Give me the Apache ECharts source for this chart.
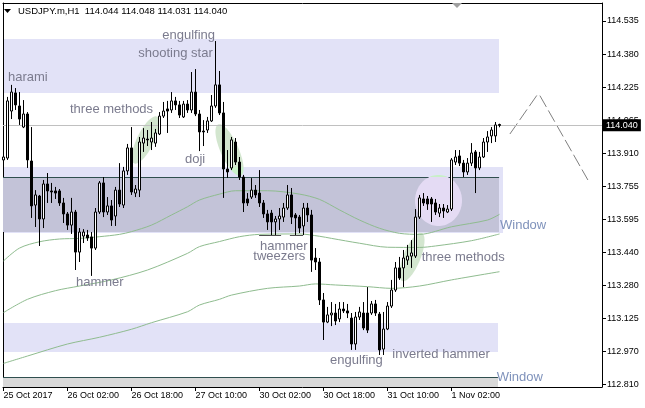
<!DOCTYPE html>
<html><head><meta charset="utf-8">
<script src="https://cdn.jsdelivr.net/npm/echarts@6/dist/echarts.min.js"></script>
<style>html,body{margin:0;padding:0;background:#fff;}#c{width:645px;height:408px;}</style>
</head><body><div id="c"></div>
<script>
// ---- data (H1 bars, index 0 = 25 Oct 2017 10:00) ----
const opens = [113.876,113.885,114.108,114.194,114.132,114.032,114.094,113.871,113.662,113.705,
113.596,113.762,113.729,113.729,113.729,113.672,113.620,113.567,113.629,113.439,
113.515,113.520,113.511,113.458,113.629,113.767,113.629,113.658,113.610,113.733,
113.662,113.824,113.933,113.719,113.733,113.956,113.975,113.961,113.956,113.999,
114.084,114.118,114.113,114.156,114.137,114.080,114.141,114.113,114.198,114.094,
114.013,114.018,114.061,114.132,114.232,114.099,113.833,113.838,113.961,113.866,
113.795,113.691,113.700,113.733,113.719,113.672,113.620,113.624,113.582,113.596,
113.605,113.648,113.710,113.615,113.605,113.563,113.648,113.615,113.411,113.392,
113.212,113.107,113.141,113.150,113.122,113.169,113.160,113.126,113.003,113.131,
113.150,113.150,113.150,113.193,113.145,112.979,113.074,113.183,113.259,113.364,
113.364,113.401,113.420,113.420,113.605,113.691,113.691,113.691,113.672,113.624,
113.648,113.629,113.643,113.866,113.895,113.861,113.819,113.861,113.914,113.838,
113.890,113.961,113.990,113.990,114.044];
const closes = [113.890,114.156,114.198,114.137,114.070,114.094,113.876,113.658,113.710,113.596,
113.762,113.729,113.724,113.719,113.672,113.620,113.567,113.629,113.439,113.534,
113.534,113.506,113.458,113.629,113.767,113.629,113.658,113.591,113.733,113.667,
113.824,113.933,113.724,113.738,113.961,113.980,113.971,113.980,114.004,114.084,
114.108,114.108,114.156,114.137,114.089,114.141,114.113,114.198,114.094,114.009,
114.009,114.061,114.132,114.232,114.099,113.833,113.819,113.971,113.866,113.795,
113.672,113.672,113.733,113.710,113.672,113.620,113.582,113.582,113.596,113.610,
113.648,113.710,113.605,113.601,113.553,113.648,113.615,113.401,113.392,113.212,
113.107,113.141,113.150,113.112,113.169,113.160,113.150,113.003,113.131,113.155,
113.079,113.069,113.193,113.150,112.975,113.074,113.183,113.259,113.364,113.316,
113.411,113.420,113.435,113.605,113.696,113.672,113.667,113.667,113.629,113.648,
113.634,113.643,113.876,113.890,113.861,113.819,113.861,113.909,113.838,113.890,
113.961,113.985,114.018,114.042,114.040];
const highs = [113.923,114.175,114.232,114.217,114.198,114.160,114.103,114.032,113.733,113.710,
113.781,113.814,113.767,113.748,113.738,113.696,113.629,113.696,113.639,113.553,
113.548,113.544,113.534,113.648,113.776,113.795,113.700,113.686,113.748,113.861,
113.843,113.952,114.032,113.757,113.985,114.027,114.018,114.056,114.023,114.103,
114.151,114.156,114.198,114.175,114.156,114.156,114.160,114.293,114.307,114.113,
114.065,114.080,114.184,114.440,114.298,114.151,113.923,113.985,113.980,113.890,
113.805,113.719,113.790,113.757,113.828,113.686,113.639,113.639,113.610,113.648,
113.672,113.757,113.743,113.624,113.615,113.672,113.672,113.639,113.458,113.411,
113.245,113.179,113.202,113.193,113.202,113.202,113.193,113.150,113.155,113.179,
113.202,113.273,113.207,113.212,113.155,113.155,113.202,113.307,113.392,113.416,
113.449,113.473,113.496,113.643,113.710,113.719,113.705,113.700,113.691,113.667,
113.667,113.662,113.885,113.923,113.923,113.876,113.885,113.956,113.923,113.914,
113.980,114.013,114.032,114.056,114.048];
const lows = [113.819,113.876,114.070,114.113,114.042,114.027,113.838,113.601,113.558,113.468,
113.553,113.672,113.672,113.691,113.658,113.577,113.544,113.525,113.354,113.392,
113.482,113.492,113.326,113.449,113.620,113.605,113.615,113.563,113.563,113.653,
113.648,113.805,113.710,113.700,113.700,113.914,113.942,113.923,113.938,113.994,
114.075,114.004,114.099,114.113,114.075,114.075,114.099,114.099,114.084,113.918,
113.942,114.004,114.056,114.123,114.089,113.696,113.791,113.828,113.852,113.781,
113.629,113.658,113.691,113.696,113.653,113.601,113.544,113.520,113.520,113.544,
113.582,113.639,113.572,113.520,113.529,113.520,113.582,113.345,113.354,113.188,
113.022,113.102,113.088,113.093,113.107,113.150,113.126,112.975,112.975,113.117,
113.069,113.055,113.141,113.136,112.951,112.951,113.069,113.174,113.250,113.307,
113.273,113.378,113.364,113.411,113.596,113.658,113.639,113.582,113.615,113.605,
113.601,113.624,113.634,113.852,113.847,113.795,113.805,113.847,113.719,113.828,
113.885,113.914,113.956,113.961,114.031];

// moving averages (bar index, price)
const ma1Idx = [0,4,9,14,19,24,29,32,37,42,46,49,54,58,66,74,79,84,89,94,99,104,112,121,124];
const ma1 = [113.397,113.458,113.488,113.501,113.504,113.512,113.523,113.536,113.567,113.615,113.654,113.686,113.714,113.730,113.730,113.714,113.689,113.639,113.591,113.552,113.528,113.523,113.559,113.591,113.618];
const ma2Idx = [0,6,13,19,27,36,46,49,54,59,64,74,79,82,89,96,104,108,117,124];
const ma2 = [113.152,113.215,113.256,113.278,113.307,113.354,113.433,113.465,113.489,113.512,113.523,113.525,113.514,113.504,113.481,113.462,113.461,113.468,113.493,113.525];
const ma3Idx = [0,6,16,24,32,37,46,49,54,57,66,74,78,83,91,97,104,112,124];
const ma3 = [112.911,112.946,113.003,113.035,113.073,113.104,113.156,113.188,113.215,113.235,113.267,113.278,113.288,113.283,113.275,113.267,113.278,113.307,113.346];

// projection zig-zag (bar index, price)
const projUpIdx = [126.6, 133.4], projUp = [113.999, 114.184];
const projDnIdx = [134.1, 146.1], projDn = [114.181, 113.781];

const bidPrice = 114.040;
const xTickIndex = [0,16,32,48,64,80,96,112];
const xTickLabels = ['25 Oct 2017','26 Oct 02:00','26 Oct 18:00','27 Oct 10:00','30 Oct 02:00','30 Oct 18:00','31 Oct 10:00','1 Nov 02:00'];
const yTickLabels = ['112.810','112.970','113.125','113.280','113.440','113.595','113.755','113.910','114.065','114.225','114.380','114.535'];

// ---- chart ----
const yMin = 112.7991, yMax = 114.6204;
const yLo = 112.810, yHi = 114.535;
const yTickVals = yTickLabels.map((_, k) => yLo + k * (yHi - yLo) / (yTickLabels.length - 1));
const FONT = '"Liberation Sans", Arial, sans-serif';

const candleData = opens.map((o, i) => [i, o, closes[i], lows[i], highs[i]]);
const pairs = (xs, ys) => xs.map((x, k) => [x, ys[k]]);
const nearestIdx = (arr, v) => { let b = 0; arr.forEach((a, k) => { if (Math.abs(a - v) < Math.abs(arr[b] - v)) b = k; }); return b; };

const chart = echarts.init(document.getElementById('c'), null, {renderer: 'canvas'});
const maStyle = {color: '#8fbc8f', width: 1};
chart.setOption({
  animation: false,
  backgroundColor: '#fff',
  grid: {left: 3, top: 3, right: 43, bottom: 21, containLabel: false},
  xAxis: [{
    type: 'value', position: 'bottom', min: -0.125, max: 149.625,
    axisLine: {show: true, onZero: false, lineStyle: {color: '#000', width: 1}},
    axisTick: {show: true, customValues: xTickIndex, length: 4, inside: false, lineStyle: {color: '#000'}},
    axisLabel: {show: true, customValues: xTickIndex, align: 'left', margin: 4, color: '#000', fontSize: 9, fontFamily: FONT,
      formatter: v => xTickLabels[nearestIdx(xTickIndex, v)]},
    splitLine: {show: false}
  }, {
    type: 'value', position: 'top', min: 0, max: 1,
    axisLine: {show: true, onZero: false, lineStyle: {color: '#000', width: 1}},
    axisTick: {show: false}, axisLabel: {show: false}, splitLine: {show: false}
  }],
  yAxis: [{
    type: 'value', position: 'right', min: yMin, max: yMax,
    axisLine: {show: true, onZero: false, lineStyle: {color: '#000', width: 1}},
    axisTick: {show: true, customValues: yTickVals, length: 4, inside: false, lineStyle: {color: '#000'}},
    axisLabel: {show: true, customValues: yTickVals, margin: 5, color: '#000', fontSize: 9, fontFamily: FONT,
      formatter: v => yTickLabels[nearestIdx(yTickVals, v)]},
    splitLine: {show: false}
  }, {
    type: 'value', position: 'left', min: 0, max: 1,
    axisLine: {show: true, onZero: false, lineStyle: {color: '#000', width: 1}},
    axisTick: {show: false}, axisLabel: {show: false}, splitLine: {show: false}
  }],
  series: [
    {type: 'line', data: pairs(ma1Idx, ma1), showSymbol: false, smooth: 0.3, lineStyle: maStyle, silent: true, z: 3},
    {type: 'line', data: pairs(ma2Idx, ma2), showSymbol: false, smooth: 0.3, lineStyle: maStyle, silent: true, z: 3},
    {type: 'line', data: pairs(ma3Idx, ma3), showSymbol: false, smooth: 0.3, lineStyle: maStyle, silent: true, z: 3},
    {type: 'line', data: pairs(projUpIdx, projUp), showSymbol: false, lineStyle: {color: '#808080', width: 1, type: [13, 4]}, silent: true, z: 3},
    {type: 'line', data: pairs(projDnIdx, projDn), showSymbol: false, lineStyle: {color: '#808080', width: 1, type: [13, 4]}, silent: true, z: 3},
    {
      type: 'candlestick', data: candleData, encode: {x: 0, y: [1, 2, 3, 4]},
      barWidth: 2, silent: true, z: 5,
      itemStyle: {color: '#fff', color0: '#000', borderColor: '#000', borderColor0: '#000', borderWidth: 1},
      markLine: {
        silent: true, symbol: ['none', 'none'], animation: false,
        lineStyle: {color: '#c0c0c0', width: 1, type: 'solid'},
        label: {show: true, position: 'end', distance: 1, formatter: () => bidPrice.toFixed(3),
          color: '#fff', backgroundColor: '#000', padding: [2, 3, 1, 3], fontSize: 9, fontFamily: FONT},
        data: [{yAxis: bidPrice}]
      }
    }
  ]
});

// ---- drawn objects (zones, shapes, texts) ----
const P = (i, p) => chart.convertToPixel({xAxisIndex: 0, yAxisIndex: 0}, [i, p]);
const g = [];
function zone(i0, i1, p0, p1, fill, z) {
  const a = P(i0, p0), b = P(i1, p1);
  const x = Math.round(Math.min(a[0], b[0])), y = Math.round(Math.min(a[1], b[1]));
  g.push({type: 'rect', silent: true, z: z, shape: {x: x, y: y, width: Math.round(Math.max(a[0], b[0])) - x, height: Math.round(Math.max(a[1], b[1])) - y}, style: {fill: fill}});
}
function hline(i0, i1, p, stroke, z) {
  const a = P(i0, p), b = P(i1, p); const y = Math.floor(a[1]) + 0.5;
  g.push({type: 'line', silent: true, z: z, shape: {x1: a[0], y1: y, x2: b[0], y2: y}, style: {stroke: stroke, lineWidth: 1}});
}
const LAV = '#e2e2f7', DARK = '#c3c3d8';
zone(-0.125, 123.9, 114.450, 114.193, LAV, 0);
zone(-0.125, 124.9, 113.842, 113.529, LAV, 0);
zone(-0.125, 123.9, 113.795, 113.536, DARK, 0.1);
zone(-0.125, 123.6, 113.102, 112.965, LAV, 0);
zone(-0.125, 123.6, 112.846, yMin, '#d9d9d9', 0.1);
hline(-0.125, 123.9, 113.795, '#2f4f4f', 0.5);
hline(-0.125, 123.6, 112.846, '#2f4f4f', 0.5);
hline(63.9, 69.4, 113.517, '#505050', 0.5);
hline(71.6, 74.9, 113.517, '#505050', 0.5);

// ellipses with band-dependent tint
const yS0 = P(0, 113.842)[1], yS1 = P(0, 113.795)[1], yS2 = P(0, 113.536)[1];
function ellipsePts(cx, cy, a, b, deg) {
  const th = deg * Math.PI / 180, pts = [];
  for (let k = 0; k < 96; k++) {
    const t = k / 96 * 2 * Math.PI;
    const ex = a * Math.cos(t), ey = b * Math.sin(t);
    pts.push([cx + ex * Math.cos(th) - ey * Math.sin(th), cy - (ex * Math.sin(th) + ey * Math.cos(th))]);
  }
  return pts;
}
function clipY(poly, lo, hi) {
  const edge = (pts, keep, yv) => {
    const out = [];
    for (let k = 0; k < pts.length; k++) {
      const A = pts[k], B = pts[(k + 1) % pts.length];
      const ia = keep(A), ib = keep(B);
      if (ia) out.push(A);
      if (ia !== ib) { const t = (yv - A[1]) / (B[1] - A[1]); out.push([A[0] + t * (B[0] - A[0]), yv]); }
    }
    return out;
  };
  let r = edge(poly, p => p[1] >= lo, lo);
  if (r.length) r = edge(r, p => p[1] <= hi, hi);
  return r;
}
function blob(cx, cy, a, b, deg, base) {
  const pts = ellipsePts(cx, cy, a, b, deg);
  const parts = [[-1e4, yS0, base], [yS0, yS1, '#c8f0c8'], [yS1, yS2, '#e4dbf4'], [yS2, 1e4, base]];
  parts.forEach(([lo, hi, fill]) => {
    const pp = clipY(pts, lo, hi);
    if (pp.length > 2) g.push({type: 'polygon', silent: true, z: 1, shape: {points: pp}, style: {fill: fill}});
  });
}
const GREEN = '#d3e6cf';
blob(145.5, 140, 26, 8.5, 64, GREEN);
blob(229.5, 150, 28, 9, -66, GREEN);
blob(412, 257, 26, 8.5, 68, GREEN);
blob(438.5, 200.5, 23.5, 25.5, 0, '#e4dbf4');

// texts
const TXT = '#7b7b8e';
[['harami', 8, 77.7], ['engulfing', 162.3, 35.7], ['shooting star', 138.3, 53.3], ['three methods', 70, 109],
 ['doji', 185, 159], ['hammer', 76, 282.7], ['hammer', 260, 246.7], ['tweezers', 253.3, 256],
 ['engulfing', 330, 360], ['inverted hammer', 392.3, 354.3], ['three methods', 421.7, 257.7]].forEach(([t, x, y]) => {
  g.push({type: 'text', silent: true, z: 20, style: {text: t, x: x, y: y, fill: TXT, font: '13px ' + FONT, verticalAlign: 'middle', align: 'left'}});
});
[['Window', 500, 225.7], ['Window', 496.7, 377.3]].forEach(([t, x, y]) => {
  g.push({type: 'text', silent: true, z: 20, style: {text: t, x: x, y: y, fill: '#7f92bb', font: '13px ' + FONT, verticalAlign: 'middle', align: 'left'}});
});
// header
g.push({type: 'polygon', silent: true, z: 20, shape: {points: [[4, 9], [11, 9], [7.5, 13]]}, style: {fill: '#000'}});
g.push({type: 'text', silent: true, z: 20, style: {text: 'USDJPY.m,H1  ' + [opens[124], highs[124], lows[124], closes[124]].map(v => v.toFixed(3)).join(' '), x: 18, y: 11, fill: '#000', font: '9.5px ' + FONT, verticalAlign: 'middle'}});
// chart-shift marker
g.push({type: 'polygon', silent: true, z: 20, shape: {points: [[452, 3], [462, 3], [457, 8]]}, style: {fill: '#a0a0a0'}});

chart.setOption({graphic: {elements: g}});
</script>
</body></html>
